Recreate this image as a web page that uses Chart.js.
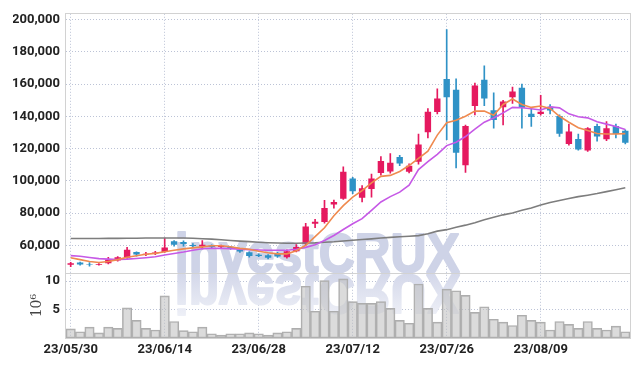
<!DOCTYPE html>
<html lang="en">
<head>
  <meta charset="UTF-8">
  <title>Candlestick chart</title>
  <script src="https://cdn.jsdelivr.net/npm/chart.js"></script>
  <style>
    html, body { margin: 0; padding: 0; background: #fff; }
    #wrap { width: 639px; height: 366px; }
  </style>
</head>
<body>
  <div id="wrap"><canvas id="priceChart" width="639" height="366"></canvas></div>

  <script>
    const dates = [
      '23/05/30','23/05/31','23/06/01','23/06/02','23/06/05','23/06/07','23/06/08','23/06/09','23/06/12','23/06/13',
      '23/06/14','23/06/15','23/06/16','23/06/19','23/06/20','23/06/21','23/06/22','23/06/23','23/06/26','23/06/27',
      '23/06/28','23/06/29','23/06/30','23/07/03','23/07/04','23/07/05','23/07/06','23/07/07','23/07/10','23/07/11',
      '23/07/12','23/07/13','23/07/14','23/07/17','23/07/18','23/07/19','23/07/20','23/07/21','23/07/24','23/07/25',
      '23/07/26','23/07/27','23/07/28','23/07/31','23/08/01','23/08/02','23/08/03','23/08/04','23/08/07','23/08/08',
      '23/08/09','23/08/10','23/08/11','23/08/14','23/08/16','23/08/17','23/08/18','23/08/21','23/08/22','23/08/23'
    ];

    const opens = [
      47900, 49300, 48400, 47900, 48800, 50500, 52200, 55900, 54300, 55000,
      55900, 62500, 62000, 60200, 59300, 59900, 59000, 59100, 57000, 55700,
      54200, 53800, 54800, 52600, 56300, 60800, 73300, 74400, 85300, 88900,
      101500, 89500, 95000, 104800, 105800, 114800, 105600, 111900, 130100, 142700,
      163300, 156600, 109700, 146400, 162700, 143900, 145700, 151900, 157800, 141700,
      141500, 146000, 140200, 122900, 126000, 118800, 134100, 125800, 134100, 131100
    ];
    const highs = [
      49400, 49600, 49300, 48700, 52600, 53000, 58700, 56000, 55600, 56200,
      64400, 63000, 62800, 61000, 63000, 60300, 60100, 59400, 57600, 56000,
      54700, 54300, 55700, 57200, 60400, 73600, 76100, 87900, 88100, 108700,
      102200, 97100, 104200, 115000, 117000, 115800, 110500, 129000, 144900, 157200,
      193900, 163300, 134600, 160700, 171400, 154700, 150000, 158200, 160000, 144900,
      153100, 147300, 141000, 135200, 129100, 133000, 135200, 136800, 135200, 131700
    ];
    const lows = [
      46700, 47600, 47000, 47600, 48500, 50200, 51800, 53300, 53500, 54200,
      55500, 59500, 59500, 58800, 57700, 58500, 58600, 57400, 55600, 52600,
      53000, 51600, 52500, 52000, 55900, 60200, 71000, 73800, 83100, 88400,
      92000, 86900, 89900, 103500, 104800, 109500, 105000, 110300, 126600, 141500,
      125600, 108000, 105200, 140900, 146600, 132700, 134700, 148000, 132700, 133800,
      140800, 141500, 127600, 122100, 119000, 118200, 124600, 125000, 126600, 123000
    ];
    const closes = [
      48800, 48000, 48000, 48400, 51200, 52600, 57300, 54300, 54800, 55500,
      58700, 60300, 60800, 59500, 60400, 58900, 59700, 57800, 56200, 53300,
      53400, 52300, 53000, 56300, 58900, 71600, 74600, 83200, 86900, 105600,
      93500, 95400, 101500, 112400, 111300, 110800, 109300, 122500, 142900, 151100,
      151900, 117400, 134100, 159200, 151100, 137800, 149200, 155500, 145400, 139700,
      142900, 143700, 129200, 130700, 119500, 132700, 127600, 132700, 129100, 123600
    ];

    const maShort = [
      52300, 51100, 49900, 49300, 49900, 51100, 52600, 53500, 54400, 55000,
      56000, 56900, 57800, 58400, 59000, 59700, 59700, 59100, 58100, 57500,
      56300, 55400, 54700, 54700, 56600, 60000, 65400, 70900, 78300, 84600,
      89900, 93900, 98800, 102800, 103400, 105800, 109500, 114000, 118400, 128400,
      136100, 137600, 140100, 143300, 143300, 140700, 147400, 150800, 147400, 145600,
      146500, 145000, 140100, 136400, 133000, 131200, 129400, 129100, 129100, 129300
    ];
    const maMid = [
      53600, 53200, 52400, 51700, 51400, 51200, 51400, 51800, 52300, 52900,
      54000, 54900, 55800, 56900, 57900, 58200, 58100, 57900, 57600, 57300,
      57100, 56900, 56900, 56900, 57500, 58700, 60400, 63000, 66100, 69800,
      73400, 76500, 81700, 86900, 90200, 93000, 97300, 107000, 111900, 116500,
      121900, 124000, 127500, 132100, 136400, 139000, 142200, 145600, 145400, 144800,
      144000, 145900, 145300, 141600, 139800, 139100, 136700, 135200, 133800, 131900
    ];
    const maLong = [
      64200, 64200, 64200, 64200, 64300, 64300, 64400, 64400, 64500, 64500,
      64500, 64500, 64500, 64400, 64100, 63800, 63400, 63000, 62600, 62300,
      61900, 61600, 61400, 61300, 61300, 61400, 61500, 61900, 62200, 62700,
      63100, 63600, 64000, 64500, 64900, 65300, 65600, 66000, 67200, 68800,
      69700, 71200, 72500, 74000, 75800, 77400, 78900, 80100, 81700, 83200,
      85000, 86600, 87800, 89000, 90200, 91100, 92100, 93300, 94500, 95700
    ];

    // volume in millions of shares
    const volumes = [
      1.6, 1.1, 1.9, 0.9, 1.9, 1.7, 5.3, 3.1, 1.7, 1.4,
      7.4, 2.9, 1.3, 1.1, 1.9, 0.75, 0.5, 0.75, 0.75, 0.9,
      0.75, 0.5, 0.9, 1.1, 1.7, 9.1, 4.7, 10.1, 4.7, 10.4,
      6.4, 6.1, 6.1, 6.4, 5.2, 3.1, 2.6, 9.5, 5.2, 2.8,
      8.6, 8.3, 7.5, 4.5, 5.5, 3.3, 2.8, 2.2, 4.0, 3.1,
      2.8, 1.4, 2.9, 2.4, 1.7, 2.9, 1.7, 1.4, 2.1, 1.1
    ];

    const priceTicks = [60000, 80000, 100000, 120000, 140000, 160000, 180000, 200000];
    const volumeTicks = [5, 10];

    const UP = '#e5195f';
    const DOWN = '#2f92c6';
    const GRID = '#bcc3d6';
    const TICK_FONT = { family: "Roboto, sans-serif", size: 13, weight: 'bold' };

    const candleColors = closes.map((c, i) => c >= opens[i] ? UP : DOWN);

    // "investCRUX" watermark with its mirror image, drawn under the data
    const watermark = {
      id: 'watermark',
      beforeDatasetsDraw(chart) {
        const { ctx, chartArea: a, scales } = chart;
        const text = 'investCRUX';
        const base = scales.y.bottom - 1;
        const x0 = a.left + (a.right - a.left) * 0.193;
        const targetW = (a.right - a.left) * 0.505;
        ctx.save();
        ctx.font = "bold 56px 'Liberation Sans', sans-serif";
        ctx.textBaseline = 'alphabetic';
        ctx.lineJoin = 'round';
        const sx = targetW / ctx.measureText(text).width;
        ctx.translate(x0, base);
        ctx.scale(sx, 1);
        ctx.fillStyle = '#ced3e7';
        ctx.strokeStyle = '#ced3e7';
        ctx.lineWidth = 2;
        ctx.fillText(text, 0, 0);
        ctx.strokeText(text, 0, 0);
        ctx.scale(1, -1);
        const g = ctx.createLinearGradient(0, -2, 0, -44);
        g.addColorStop(0, '#d4d8ea');
        g.addColorStop(1, '#eef0f7');
        ctx.fillStyle = g;
        ctx.strokeStyle = g;
        ctx.fillText(text, 0, -3);
        ctx.strokeText(text, 0, -3);
        ctx.restore();
      }
    };

    const frame = {
      id: 'frame',
      afterDatasetsDraw(chart) {
        const { ctx, chartArea: a, scales } = chart;
        ctx.save();
        ctx.strokeStyle = '#d2d2d2';
        ctx.lineWidth = 1;
        ctx.strokeRect(Math.round(a.left) - 0.5, Math.round(a.top) - 0.5,
          Math.round(a.right - a.left) + 1, Math.round(a.bottom - a.top) + 1);
        const yDiv = Math.round(scales.yv.top) + 0.5;
        ctx.beginPath();
        ctx.moveTo(a.left, yDiv);
        ctx.lineTo(a.right, yDiv);
        ctx.stroke();
        ctx.restore();
      }
    };

    const lineDs = (data, color) => ({
      type: 'line',
      data: data,
      yAxisID: 'y',
      borderColor: color,
      borderWidth: 1.6,
      pointRadius: 0,
      tension: 0,
      order: 0
    });

    new Chart(document.getElementById('priceChart'), {
      data: {
        labels: dates,
        datasets: [
          lineDs(maShort, '#ef8a4f'),
          lineDs(maMid, '#c659e6'),
          lineDs(maLong, '#7d7d7d'),
          {
            type: 'bar',
            data: opens.map((o, i) => [o, closes[i]]),
            yAxisID: 'y',
            backgroundColor: candleColors,
            barPercentage: 0.68,
            categoryPercentage: 1,
            grouped: false,
            order: 1
          },
          {
            type: 'bar',
            data: lows.map((l, i) => [l, highs[i]]),
            yAxisID: 'y',
            backgroundColor: candleColors,
            barThickness: 1,
            grouped: false,
            order: 2
          },
          {
            type: 'bar',
            data: volumes,
            yAxisID: 'yv',
            backgroundColor: 'rgba(190,190,190,0.55)',
            borderColor: '#adadad',
            borderWidth: 1,
            borderSkipped: false,
            barPercentage: 1,
            categoryPercentage: 1,
            grouped: false,
            order: 3
          }
        ]
      },
      options: {
        responsive: false,
        animation: false,
        layout: { padding: { top: 9, right: 9, left: 13, bottom: 0 } },
        plugins: { legend: { display: false }, tooltip: { enabled: false } },
        scales: {
          x: {
            type: 'category',
            offset: true,
            afterFit: s => { s.height = 28; },
            grid: {
              offset: false,
              drawTicks: false,
              color: c => (c.index % 10 === 0 ? GRID : 'rgba(0,0,0,0)')
            },
            border: { display: false, dash: [1, 2] },
            ticks: {
              autoSkip: false,
              maxRotation: 0,
              padding: 4,
              color: '#222',
              font: TICK_FONT,
              callback: (v, i) => (i % 10 === 0 ? dates[i] : '')
            }
          },
          yv: {
            type: 'linear',
            position: 'left',
            stack: 'panels',
            stackWeight: 1,
            min: 0,
            max: 11.4,
            afterFit: s => { s.width = 53; },
            afterBuildTicks: s => { s.ticks = volumeTicks.map(v => ({ value: v })); },
            grid: { color: GRID, drawTicks: false },
            border: { display: false, dash: [1, 2] },
            title: {
              display: true,
              text: '10\u2076',
              color: '#444',
              font: { family: "'DejaVu Serif', serif", size: 14 },
              padding: { top: 16, bottom: 0 }
            },
            ticks: {
              padding: 6,
              color: '#222',
              font: TICK_FONT
            }
          },
          y: {
            type: 'linear',
            position: 'left',
            stack: 'panels',
            stackWeight: 4,
            min: 42700,
            max: 203700,
            afterFit: s => { s.width = 53; },
            afterBuildTicks: s => { s.ticks = priceTicks.map(v => ({ value: v })); },
            grid: { color: GRID, drawTicks: false },
            border: { display: false, dash: [1, 2] },
            ticks: {
              padding: 6,
              color: '#222',
              font: TICK_FONT,
              callback: v => v.toLocaleString('en-US')
            }
          }
        }
      },
      plugins: [watermark, frame]
    });
  </script>
</body>
</html>
